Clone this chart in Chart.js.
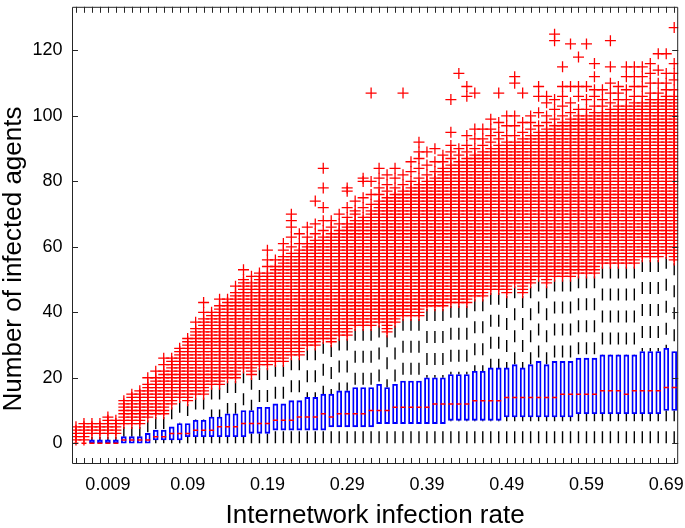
<!DOCTYPE html>
<html>
<head>
<meta charset="utf-8">
<script src="https://cdn.jsdelivr.net/npm/chart.js@4.4.1/dist/chart.umd.min.js"></script>
<style>
html,body{margin:0;padding:0;background:#fff;}
#wrap{width:685px;height:528px;position:relative;}
</style>
</head>
<body>
<div id="wrap"><canvas id="c" width="685" height="528"></canvas></div>
<script>
// ---------------- data ----------------
// 76 box groups (internetwork infection rate)
const categories = ['0.005','0.006','0.007','0.008','0.009',
 '0.01','0.02','0.03','0.04','0.05','0.06','0.07','0.08','0.09','0.10',
 '0.11','0.12','0.13','0.14','0.15','0.16','0.17','0.18','0.19','0.20',
 '0.21','0.22','0.23','0.24','0.25','0.26','0.27','0.28','0.29','0.30',
 '0.31','0.32','0.33','0.34','0.35','0.36','0.37','0.38','0.39','0.40',
 '0.41','0.42','0.43','0.44','0.45','0.46','0.47','0.48','0.49','0.50',
 '0.51','0.52','0.53','0.54','0.55','0.56','0.57','0.58','0.59','0.60',
 '0.61','0.62','0.63','0.64','0.65','0.66','0.67','0.68','0.69','0.70','0.71'];

// tick labels shown on the x axis and the group (1-based) they sit under
const xTickLabels   = ['0.009','0.09','0.19','0.29','0.39','0.49','0.59','0.69'];
const xTickGroups   = [5, 15, 25, 35, 45, 55, 65, 75];
const yTickValues   = [0, 20, 40, 60, 80, 100, 120];

const q1 = [0,0,0,0,0,0,0,0,0,0, 1,1,1,1,2,2,2,2,2,2, 2,2,3,3,3,4,4,4,4,4,
            4,4,5,5,5,5,5,5,6,6, 6,6,6,6,6,6,6,7,7,7, 7,7,7,7,8,8,8,8,8,8,
            8,8,8,9,9,9,9,9,9,9, 9,9,9,9,10,10];
const median = [0,0,0,0,0,0,1,1,1,1, 2,2,3,3,3,4,4,4,5,5, 5,6,6,6,6,7,7,7,8,8,
            8,9,8,9,9,9,9,10,10,10, 11,11,11,11,11,12,12,12,12,12, 13,13,13,13,14,14,14,14,14,14,
            14,15,15,15,15,15,16,16,16,15, 16,16,16,16,17,17];
const q3 = [0,0,1,1,1,1,2,2,2,3, 4,4,5,6,6,7,7,8,8,9, 9,10,10,11,11,12,12,13,13,14,
            14,15,15,16,16,17,17,17,18,17, 18,19,19,19,20,20,20,21,21,21, 22,22,23,23,23,24,23,24,25,24,
            25,25,25,26,26,26,27,27,27,27, 27,28,28,28,29,28];
const whiskerLow = [0,0,0,0,0,0,0,0,0,0, 0,0,0,0,0,0,0,0,0,0, 0,0,0,0,0,0,0,0,0,0,
            0,0,0,0,0,0,0,0,0,0, 0,0,0,0,0,0,0,0,0,0, 0,0,0,0,0,0,0,0,0,0,
            0,0,0,0,0,0,0,0,0,0, 0,0,0,0,0,0];
const whiskerHigh = [0,0,2,2,2,2,5,5,5,7, 8,8,11,13,12,14,14,17,17,19, 19,22,20,23,23,24,24,26,26,29,
            29,31,30,32,32,35,35,35,36,33, 36,38,38,38,41,41,41,42,42,42, 44,44,46,46,45,48,45,48,50,48,
            50,50,50,51,51,51,54,54,54,54, 54,56,56,56,57,55];
// every integer count from whiskerHigh+1 up to outlierBandTop was observed as an outlier
const outlierBandTop = [5,6,6,6,7,7,12,13,15,18, 20,22,24,27,30,34,37,38,41,42, 44,48,47,49,51,53,55,57,58,60,
            61,62,63,64,66,67,68,70,74,75, 76,77,78,79,80,81,83,85,86,87, 88,89,90,91,92,92,93,94,95,96,
            97,98,99,100,100,101,101,102,103,103, 104,104,105,105,106,106];
// isolated outliers above the dense band
const sparseOutliers = [[],[],[],[],[8],[],[13],[14,15],[16],[20],
 [22],[24,26],[25,26],[28,29],[31,32],[35,37],[38,40,43],[39,40],[42,44],[43,44],
 [45,46,48],[49,50,53],[48,49,51],[50,51,52],[52,54,56,59],[54,56],[56,57,59,61],[58,60,63,66,68,70],[59,61,64],[61,63,66],
 [62,64,67,74],[63,65,68,72,78,84],[64,66,68],[65,67,70],[67,69,72,77,78],[68,70,71,74],[69,72,75,80,81],[71,73,76,80,107],[76,78,81,84],[77,79,82],
 [78,81,84],[79,82,107],[80,83,86],[81,84,87,89,92],[82,85,89],[83,86,90],[84,86,88],[87,89,91,95,105],[88,90,113],[89,91,94,106,109],
 [90,93,96,107],[91,93,96],[92,94,96,99],[93,95,98,107],[94,97,100],[94,97,100,110,112],[95,98,107],[96,98,100],[97,101,106,109],[98,100,104,106],
 [99,102,105,123,125],[100,103,106,109,115],[101,104,109,122],[102,106,109,118],[102,105,109,122],[103,106,108,112,116],[103,105,108],[104,107,110,115,123],[105,107,109],[105,108,112,115],
 [106,109,112,115],[106,109,112,115],[107,110,113,116],[107,110,114,119],[108,110,113,119],[108,111,113,116,127]];

const yMin = -6.35, yMax = 133.35;

// ---------------- build library data ----------------
const boxData = [], medianData = [], whiskerData = [], outlierData = [];
categories.forEach((c, i) => {
  const g = i + 1;
  boxData.push({x: g, y: [q1[i], q3[i]]});
  medianData.push({x: g, y: median[i]});
  if (whiskerHigh[i] > q3[i]) {
    whiskerData.push({x: g, y: whiskerHigh[i]}, {x: g, y: q3[i]}, {x: g, y: null});
  }
  if (q1[i] > whiskerLow[i]) {
    whiskerData.push({x: g, y: whiskerLow[i]}, {x: g, y: q1[i]}, {x: g, y: null});
  }
  for (let v = whiskerHigh[i] + 1; v <= outlierBandTop[i]; v++) outlierData.push({x: g, y: v});
  sparseOutliers[i].forEach(v => outlierData.push({x: g, y: v}));
});

const FONT = "'Liberation Sans', Arial, Helvetica, sans-serif";
const AXIS = '#262626';

const framePlugin = {
  id: 'frame',
  afterDatasetsDraw(chart) {
    const {ctx, chartArea: {left, right, top, bottom}, scales: {x, y}} = chart;
    ctx.save();
    ctx.strokeStyle = AXIS;
    ctx.lineWidth = 1;
    ctx.beginPath();
    ctx.rect(left + 0.5, top + 0.5, right - left - 1, bottom - top - 1);
    categories.forEach((c, i) => {
      const px = Math.round(x.getPixelForValue(i + 1)) + 0.5;
      ctx.moveTo(px, bottom); ctx.lineTo(px, bottom - 6);
      ctx.moveTo(px, top); ctx.lineTo(px, top + 6);
    });
    y.ticks.forEach(t => {
      const py = Math.round(y.getPixelForValue(t.value)) + 0.5;
      ctx.moveTo(left, py); ctx.lineTo(left + 6, py);
      ctx.moveTo(right, py); ctx.lineTo(right - 6, py);
    });
    ctx.stroke();
    ctx.restore();
  },
  afterDraw(chart) {
    const {ctx, chartArea: {left, right}} = chart;
    ctx.save();
    ctx.fillStyle = '#000';
    ctx.font = "26px " + FONT;
    ctx.textAlign = 'center';
    ctx.textBaseline = 'alphabetic';
    ctx.fillText('Internetwork infection rate', (left + right) / 2, 523);
    ctx.translate(20.5, 259);
    ctx.rotate(-Math.PI / 2);
    ctx.fillText('Number of infected agents', 0, 0);
    ctx.restore();
  }
};

new Chart(document.getElementById('c'), {
  type: 'bar',
  data: {
    datasets: [
      {type: 'line', label: 'whiskers', data: whiskerData, borderColor: '#000', borderWidth: 1.4,
       borderDash: [12, 10], pointRadius: 0, spanGaps: false, fill: false, order: 4},
      {type: 'bar', label: 'boxes', data: boxData, borderColor: '#0000ff', backgroundColor: 'rgba(0,0,0,0)',
       borderWidth: 1.2, borderSkipped: false, barThickness: 5, order: 3},
      {type: 'scatter', label: 'median', data: medianData, pointStyle: 'line', pointRadius: 2.5,
       borderColor: '#ff0000', backgroundColor: '#ff0000', borderWidth: 1.5, order: 2},
      {type: 'scatter', label: 'outliers', data: outlierData, pointStyle: 'cross', pointRadius: 5.5,
       borderColor: '#ff0000', backgroundColor: '#ff0000', borderWidth: 1.3, order: 1}
    ]
  },
  options: {
    responsive: false,
    animation: false,
    events: [],
    layout: {padding: {top: 1, right: 5, left: 0, bottom: 0}},
    plugins: {legend: {display: false}, tooltip: {enabled: false}, title: {display: false}},
    scales: {
      x: {
        type: 'linear', min: 0.5, max: categories.length + 0.5, offset: false,
        grid: {display: false, drawTicks: false}, border: {display: false},
        afterBuildTicks: s => { s.ticks = xTickGroups.map(v => ({value: v})); },
        afterFit: s => { s.height = 64; s.paddingLeft = 0; s.paddingRight = 0; },
        ticks: {autoSkip: false, maxRotation: 0, minRotation: 0, padding: 10, color: '#000',
                font: {family: FONT, size: 18}, callback: (v, i) => xTickLabels[i]},
        title: {display: false}
      },
      y: {
        type: 'linear', min: yMin, max: yMax,
        grid: {display: false, drawTicks: false}, border: {display: false},
        afterBuildTicks: s => { s.ticks = yTickValues.map(v => ({value: v})); },
        afterFit: s => { s.width = 72; s.paddingTop = 0; s.paddingBottom = 0; },
        ticks: {padding: 9.5, color: '#000', font: {family: FONT, size: 18},
                callback: v => String(v)},
        title: {display: false}
      }
    }
  },
  plugins: [framePlugin]
});
</script>
</body>
</html>
